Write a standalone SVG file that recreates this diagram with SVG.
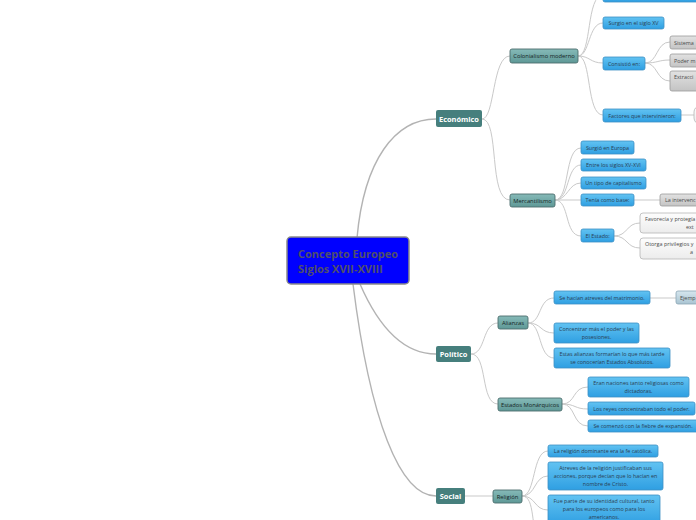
<svg xmlns="http://www.w3.org/2000/svg" width="696" height="520" viewBox="0 0 696 520">
<defs>
<linearGradient id="gb" x1="0" y1="0" x2="0" y2="1"><stop offset="0" stop-color="#62c3f2"/><stop offset="1" stop-color="#2f9fe2"/></linearGradient>
<linearGradient id="gg" x1="0" y1="0" x2="0" y2="1"><stop offset="0" stop-color="#e2e2e2"/><stop offset="1" stop-color="#c4c4c4"/></linearGradient>
<linearGradient id="gw" x1="0" y1="0" x2="0" y2="1"><stop offset="0" stop-color="#fdfdfd"/><stop offset="1" stop-color="#ececec"/></linearGradient>
<linearGradient id="gt" x1="0" y1="0" x2="0" y2="1"><stop offset="0" stop-color="#86bab8"/><stop offset="1" stop-color="#5e9896"/></linearGradient>
<linearGradient id="gx" x1="0" y1="0" x2="0" y2="1"><stop offset="0" stop-color="#d6e6ee"/><stop offset="1" stop-color="#a9c4d2"/></linearGradient>
</defs>
<style>
.c{fill:none;stroke:#c9c9c9;stroke-width:1}
.c1{fill:none;stroke:#b3b3b3;stroke-width:1.4}
.b{fill:url(#gb);stroke:#3e8fc4;stroke-width:0.8}
.g{fill:url(#gg);stroke:#9a9a9a;stroke-width:0.8}
.w{fill:url(#gw);stroke:#b5b5b5;stroke-width:0.8}
.x{fill:url(#gx);stroke:#8aa4b4;stroke-width:0.8}
.t2{fill:url(#gt);stroke:#4d6e6d;stroke-width:0.9}
.t1{fill:#467f7d}
text{font-family:"Open Sans","Liberation Sans",sans-serif}
.tb{font-size:5.4px;fill:#2a4054;text-anchor:middle}
.tg{font-size:5.4px;fill:#4a4a4a}
.tt{font-size:5.8px;fill:#142424;text-anchor:middle}
.t1t{font-size:7.4px;fill:#ffffff;text-anchor:middle;font-weight:bold}
</style>
<g id="connectors">
<path class="c1" d="M357,238 C364,160 395,119 436,119"/>
<path class="c1" d="M360,284 C380,330 405,354 436,354"/>
<path class="c1" d="M353,284 C370,420 400,496 436,496"/>
<path class="c" d="M482,119 C495,119 492,56 510,56"/>
<path class="c" d="M482,119 C500,119 488,200 510,200"/>
<path class="c" d="M471,354 C486,354 482,323 498,323"/>
<path class="c" d="M471,354 C488,354 480,404 498,404"/>
<path class="c" d="M465,496 L493,496"/>
<path class="c" d="M578,56 C592,56 586,-5 603,-5"/>
<path class="c" d="M578,56 C590,56 588,23 603,23"/>
<path class="c" d="M578,56 C590,56 590,63 603,63"/>
<path class="c" d="M578,56 C592,56 586,115 603,115"/>
<path class="c" d="M645,63 C658,63 656,42 670,42"/>
<path class="c" d="M645,63 C658,63 658,60 670,60"/>
<path class="c" d="M645,63 C658,63 656,81 670,81"/>
<path class="c" d="M681,115 L694,115"/>
<path class="c" d="M555,200 C570,200 564,148 581,148"/>
<path class="c" d="M555,200 C570,200 566,165 581,165"/>
<path class="c" d="M555,200 C568,200 568,183 581,183"/>
<path class="c" d="M555,200 L581,200"/>
<path class="c" d="M555,200 C570,200 564,236 581,236"/>
<path class="c" d="M634,200 L660,200"/>
<path class="c" d="M614,236 C628,236 626,223 640,223"/>
<path class="c" d="M614,236 C628,236 626,248 640,248"/>
<path class="c" d="M528,323 C542,323 538,298 554,298"/>
<path class="c" d="M528,323 C542,323 540,333 554,333"/>
<path class="c" d="M528,323 C542,323 538,358 554,358"/>
<path class="c" d="M650,298 L676,298"/>
<path class="c" d="M562,404 C576,404 572,387 588,387"/>
<path class="c" d="M562,404 C576,404 574,409 588,409"/>
<path class="c" d="M562,404 C576,404 572,426 588,426"/>
<path class="c" d="M522,496 C536,496 532,451 548,451"/>
<path class="c" d="M522,496 C536,496 534,476 548,476"/>
<path class="c" d="M522,496 C536,496 534,510 548,510"/>
<path class="c" d="M522,496 C536,496 530,530 540,545"/>
</g>
<g id="central"><rect x="287" y="237" width="122" height="47" rx="4" fill="#0000ff" stroke="#8a8a8a" stroke-width="1.5"/><text x="298" y="258" font-size="11" font-weight="bold" fill="#50506a">Concepto Europeo</text><text x="298" y="273" font-size="11" font-weight="bold" fill="#50506a">Siglos XVII-XVIII</text></g>
<g id="economico"><rect class="t1" x="436" y="110" width="46" height="17" rx="2"/><text class="t1t" x="459" y="121.5">Económico</text></g>
<g id="politico"><rect class="t1" x="436" y="346" width="35" height="16" rx="2"/><text class="t1t" x="453.5" y="357">Político</text></g>
<g id="social"><rect class="t1" x="436" y="488" width="29" height="16" rx="2"/><text class="t1t" x="450.5" y="499">Social</text></g>
<g id="colonialismo"><rect class="t2" x="510" y="49" width="68" height="14" rx="2"/><text class="tt" x="544" y="58">Colonialismo moderno</text></g>
<g id="mercantilismo"><rect class="t2" x="510" y="194" width="45" height="13" rx="2"/><text class="tt" x="532.5" y="202.5">Mercantilismo</text></g>
<g id="alianzas"><rect class="t2" x="498" y="316" width="30" height="13" rx="2"/><text class="tt" x="513" y="324.7">Alianzas</text></g>
<g id="estados"><rect class="t2" x="498" y="398" width="64" height="13" rx="2"/><text class="tt" x="530" y="406.7">Estados Monárquicos</text></g>
<g id="religion"><rect class="t2" x="493" y="490" width="29" height="13" rx="2"/><text class="tt" x="507.5" y="498.7">Religión</text></g>
<g id="top-cut"><rect class="b" x="603" y="-12" width="100" height="14" rx="2"/></g>
<g id="surgio-xv"><rect class="b" x="603" y="17" width="61" height="12" rx="2"/><text class="tb" x="633.5" y="25">Surgio en el siglo XV</text></g>
<g id="consistio"><rect class="b" x="603" y="57" width="42" height="13" rx="2"/><text class="tb" x="624" y="65.5">Consistió en:</text></g>
<g id="factores"><rect class="b" x="603" y="109" width="78" height="13" rx="2"/><text class="tb" x="642" y="117.5">Factores que intervinieron:</text></g>
<g id="factores-child"><rect class="w" x="694" y="106" width="20" height="18" rx="6"/></g>
<g id="sistema"><rect class="g" x="670" y="36" width="40" height="13" rx="2"/><text class="tg" x="674" y="44.5">Sistema</text></g>
<g id="poder"><rect class="g" x="670" y="54" width="40" height="13" rx="2"/><text class="tg" x="674" y="62.5">Poder m</text></g>
<g id="extraccion"><rect class="g" x="670" y="71" width="40" height="20" rx="2"/><text class="tg" x="674" y="79">Extracci</text></g>
<g id="europa"><rect class="b" x="581" y="141" width="53" height="13" rx="2"/><text class="tb" x="607.5" y="149.5">Surgió en Europa</text></g>
<g id="siglos"><rect class="b" x="581" y="159" width="65" height="12" rx="2"/><text class="tb" x="613.5" y="167">Entre los siglos XV-XVI</text></g>
<g id="capitalismo"><rect class="b" x="581" y="177" width="65" height="12" rx="2"/><text class="tb" x="613.5" y="185">Un tipo de capitalismo</text></g>
<g id="base"><rect class="b" x="581" y="194" width="53" height="12" rx="2"/><text class="tb" x="607.5" y="202">Tenía como base:</text></g>
<g id="intervencion"><rect class="g" x="660" y="194" width="50" height="12" rx="2"/><text class="tg" x="665" y="202">La intervenc</text></g>
<g id="estado"><rect class="b" x="581" y="229" width="33" height="13" rx="2"/><text class="tb" x="597.5" y="237.5">El Estado:</text></g>
<g id="favorecia"><rect class="w" x="640" y="213" width="70" height="20" rx="3"/><text class="tg" x="645" y="221">Favorecía y protegía</text><text class="tg" x="686" y="229">ext</text></g>
<g id="otorga"><rect class="w" x="640" y="238" width="70" height="21" rx="3"/><text class="tg" x="645" y="246">Otorga privilegios y</text><text class="tg" x="690" y="254">a</text></g>
<g id="matrimonio"><rect class="b" x="554" y="291" width="96" height="13" rx="2"/><text class="tb" x="602" y="299.5">Se hacían atreves del matrimonio.</text></g>
<g id="ejemplo"><rect class="x" x="676" y="291" width="30" height="13" rx="2"/><text class="tg" x="680" y="299.5">Ejemp</text></g>
<g id="concentrar"><rect class="b" x="554" y="323" width="85" height="20" rx="2"/><text class="tb" x="596.5" y="331">Concentrar más el poder y las</text><text class="tb" x="596.5" y="339">posesiones.</text></g>
<g id="absolutos"><rect class="b" x="554" y="348" width="116" height="20" rx="2"/><text class="tb" x="612" y="356">Estas alianzas formarían lo que más tarde</text><text class="tb" x="612" y="364">se conocerían Estados Absolutos.</text></g>
<g id="naciones"><rect class="b" x="588" y="377" width="101" height="20" rx="2"/><text class="tb" x="638.5" y="385">Eran naciones tanto religiosas como</text><text class="tb" x="638.5" y="393">dictadoras.</text></g>
<g id="reyes"><rect class="b" x="588" y="402" width="107" height="13" rx="2"/><text class="tb" x="641.5" y="410.5">Los reyes concentraban todo el poder.</text></g>
<g id="fiebre"><rect class="b" x="588" y="420" width="110" height="12" rx="2"/><text class="tb" x="643" y="428">Se comenzó con la fiebre de expansión.</text></g>
<g id="catolica"><rect class="b" x="548" y="445" width="110" height="12" rx="2"/><text class="tb" x="603" y="453">La religión dominante era la fe católica.</text></g>
<g id="cristo"><rect class="b" x="548" y="462" width="115" height="28" rx="2"/><text class="tb" x="605.5" y="470">Atreves de la religión justificaban sus</text><text class="tb" x="605.5" y="478">acciones, porque decían que lo hacían en</text><text class="tb" x="605.5" y="486">nombre de Cristo.</text></g>
<g id="identidad"><rect class="b" x="548" y="495" width="112" height="30" rx="2"/><text class="tb" x="604" y="503">Fue parte de su identidad cultural, tanto</text><text class="tb" x="604" y="511">para los europeos como para los</text><text class="tb" x="604" y="519">americanos.</text></g>
</svg>
